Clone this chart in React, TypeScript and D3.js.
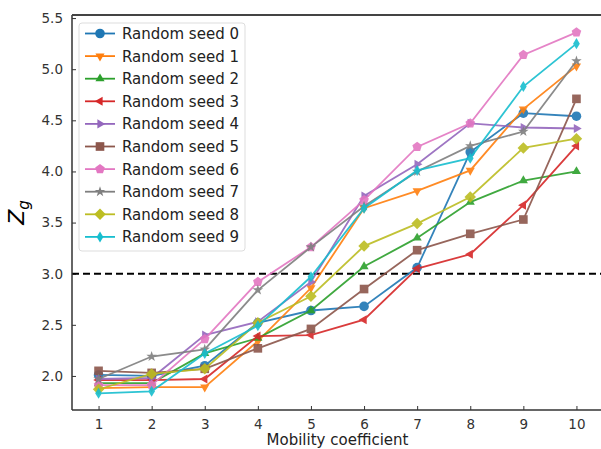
import { useRef, useEffect } from 'react';
import * as d3 from 'd3';

const mobility = [1, 2, 3, 4, 5, 6, 7, 8, 9, 10];
const seedNames = ['Random seed 0', 'Random seed 1', 'Random seed 2', 'Random seed 3', 'Random seed 4',
  'Random seed 5', 'Random seed 6', 'Random seed 7', 'Random seed 8', 'Random seed 9'];

const seed0 = [2.01, 2.0, 2.1, 2.52, 2.64, 2.68, 3.06, 4.19, 4.57, 4.54];
const seed1 = [1.88, 1.89, 1.89, 2.34, 2.86, 3.64, 3.81, 4.01, 4.61, 5.03];
const seed2 = [1.93, 1.93, 2.22, 2.37, 2.64, 3.07, 3.35, 3.7, 3.91, 4.0];
const seed3 = [1.96, 1.96, 1.97, 2.39, 2.4, 2.55, 3.05, 3.19, 3.67, 4.25];
const seed4 = [1.97, 1.98, 2.4, 2.53, 2.92, 3.76, 4.07, 4.47, 4.43, 4.42];
const seed5 = [2.05, 2.03, 2.07, 2.27, 2.46, 2.85, 3.23, 3.39, 3.53, 4.71];
const seed6 = [1.91, 1.91, 2.36, 2.92, 3.26, 3.72, 4.24, 4.47, 5.14, 5.36];
const seed7 = [1.97, 2.19, 2.26, 2.84, 3.26, 3.66, 4.0, 4.25, 4.39, 5.08];
const seed8 = [1.87, 2.02, 2.07, 2.52, 2.78, 3.27, 3.49, 3.75, 4.23, 4.32];
const seed9 = [1.83, 1.85, 2.22, 2.49, 2.97, 3.64, 4.01, 4.13, 4.83, 5.25];

const seriesValues = [seed0, seed1, seed2, seed3, seed4, seed5, seed6, seed7, seed8, seed9];
const markers = ['o', 'v', '^', '<', '>', 's', 'p', '*', 'D', 'd'];
const yTicks = [2.0, 2.5, 3.0, 3.5, 4.0, 4.5, 5.0, 5.5];
const threshold = 3.0;

const colors = d3.schemeCategory10;

// polygon path for a marker centred at 0,0
function markerPath(m: string, r: number): string {
  const poly = (pts: [number, number][]) => 'M' + pts.map(p => p[0].toFixed(2) + ',' + p[1].toFixed(2)).join('L') + 'Z';
  const reg = (n: number, rad: number, rot: number) =>
    d3.range(n).map(i => {
      const a = rot + (i * 2 * Math.PI) / n;
      return [rad * Math.cos(a), rad * Math.sin(a)] as [number, number];
    });
  switch (m) {
    case 'o': {
      const p = d3.path();
      p.arc(0, 0, r, 0, 2 * Math.PI);
      return p.toString();
    }
    case 'v': return poly(reg(3, r * 1.1, Math.PI / 2));
    case '^': return poly(reg(3, r * 1.1, -Math.PI / 2));
    case '<': return poly(reg(3, r * 1.1, Math.PI));
    case '>': return poly(reg(3, r * 1.1, 0));
    case 's': return poly([[-r * 0.9, -r * 0.9], [r * 0.9, -r * 0.9], [r * 0.9, r * 0.9], [-r * 0.9, r * 0.9]]);
    case 'p': return poly(reg(5, r * 1.05, -Math.PI / 2));
    case '*': {
      const pts: [number, number][] = [];
      for (let i = 0; i < 10; i++) {
        const a = -Math.PI / 2 + (i * Math.PI) / 5;
        const rr = i % 2 === 0 ? r * 1.15 : r * 0.45;
        pts.push([rr * Math.cos(a), rr * Math.sin(a)]);
      }
      return poly(pts);
    }
    case 'D': return poly([[0, -r * 1.2], [r * 1.2, 0], [0, r * 1.2], [-r * 1.2, 0]]);
    case 'd': return poly([[0, -r * 1.15], [r * 0.7, 0], [0, r * 1.15], [-r * 0.7, 0]]);
  }
  return '';
}

const App = () => {
  const svgRef = useRef<SVGSVGElement>(null);

  useEffect(() => {
    const svg = d3.select(svgRef.current);
    svg.selectAll('*').remove();
    const width = 601;
    const height = 449;
    const margin = { top: 15, right: -2, bottom: 39, left: 72 };
    const mr = 4.8;

    const x = d3.scaleLinear().domain([0.5, 10.5]).range([margin.left, width - margin.right]);
    const y = d3.scaleLinear().domain([1.667, 5.53]).range([height - margin.bottom, margin.top]);

    svg.append('defs').append('clipPath').attr('id', 'clip')
      .append('rect')
      .attr('x', margin.left).attr('y', margin.top)
      .attr('width', width - margin.right - margin.left)
      .attr('height', height - margin.bottom - margin.top);

    // ticks pointing inwards
    const xAxis = svg.append('g')
      .attr('transform', `translate(0,${height - margin.bottom})`)
      .call(d3.axisBottom(x).tickValues(mobility).tickSizeInner(-4).tickSizeOuter(0).tickPadding(9).tickFormat(d3.format('d')));
    const yAxis = svg.append('g')
      .attr('transform', `translate(${margin.left},0)`)
      .call(d3.axisLeft(y).tickValues(yTicks).tickSizeInner(-4).tickSizeOuter(0).tickPadding(9).tickFormat(d3.format('.1f')));
    [xAxis, yAxis].forEach(a => {
      a.select('.domain').remove();
      a.selectAll('.tick line').attr('stroke', '#333').attr('stroke-width', 1);
      a.selectAll('.tick text').attr('fill', '#333').attr('font-size', 13.5)
        .attr('font-family', 'DejaVu Sans, sans-serif');
    });

    const plot = svg.append('g').attr('clip-path', 'url(#clip)');

    plot.append('line')
      .attr('x1', margin.left).attr('x2', width)
      .attr('y1', y(threshold)).attr('y2', y(threshold))
      .attr('stroke', '#000').attr('stroke-width', 2).attr('stroke-dasharray', '7,4');

    const line = d3.line<number>().x((_, i) => x(mobility[i])).y(d => y(d));

    seriesValues.forEach((vals, k) => {
      const g = plot.append('g').attr('opacity', 0.9);
      g.append('path').attr('d', line(vals)).attr('fill', 'none')
        .attr('stroke', colors[k]).attr('stroke-width', 1.8);
      g.selectAll('path.mk').data(vals).join('path').attr('class', 'mk')
        .attr('d', markerPath(markers[k], mr))
        .attr('transform', (d, i) => `translate(${x(mobility[i])},${y(d)})`)
        .attr('fill', colors[k]);
    });

    // spines
    svg.append('line').attr('x1', margin.left).attr('x2', margin.left)
      .attr('y1', margin.top).attr('y2', height - margin.bottom)
      .attr('stroke', '#333').attr('stroke-width', 1.5);
    svg.append('line').attr('x1', margin.left).attr('x2', width)
      .attr('y1', height - margin.bottom).attr('y2', height - margin.bottom)
      .attr('stroke', '#333').attr('stroke-width', 1.5);
    svg.append('line').attr('x1', margin.left).attr('x2', width)
      .attr('y1', margin.top).attr('y2', margin.top)
      .attr('stroke', '#444').attr('stroke-width', 1.8);

    // legend
    const lg = svg.append('g').attr('transform', 'translate(79,23)');
    lg.append('rect').attr('width', 166).attr('height', 228).attr('rx', 3)
      .attr('fill', 'white').attr('fill-opacity', 0.85)
      .attr('stroke', '#ddd').attr('stroke-width', 1);
    seedNames.forEach((name, k) => {
      const cy = 10.5 + k * 22.6;
      const row = lg.append('g').attr('transform', `translate(0,${cy})`);
      row.append('line').attr('x1', 6).attr('x2', 36).attr('stroke', colors[k]).attr('stroke-width', 1.8);
      row.append('path').attr('d', markerPath(markers[k], mr)).attr('transform', 'translate(21,0)').attr('fill', colors[k]);
      row.append('text').attr('x', 43).attr('y', 5.5).text(name)
        .attr('font-size', 15).attr('fill', '#222').attr('font-family', 'DejaVu Sans, sans-serif');
    });

    // axis labels
    svg.append('text').attr('x', (margin.left + width - margin.right) / 2).attr('y', 445)
      .attr('text-anchor', 'middle').attr('font-size', 15).attr('fill', '#222')
      .attr('font-family', 'DejaVu Sans, sans-serif').text('Mobility coefficient');

    const yl = svg.append('text')
      .attr('transform', `translate(24,${(margin.top + height - margin.bottom) / 2}) rotate(-90)`)
      .attr('text-anchor', 'middle').attr('font-family', 'DejaVu Sans, sans-serif')
      .attr('font-style', 'italic').attr('fill', '#000');
    yl.append('tspan').attr('font-size', 22).text('Z');
    yl.append('tspan').attr('font-size', 15).attr('dy', 5).text('g');
  }, []);

  return <svg ref={svgRef} width="601" height="449" style={{ position: 'absolute', left: 0, top: 0, background: '#fff' }}></svg>;
};

export default App;
